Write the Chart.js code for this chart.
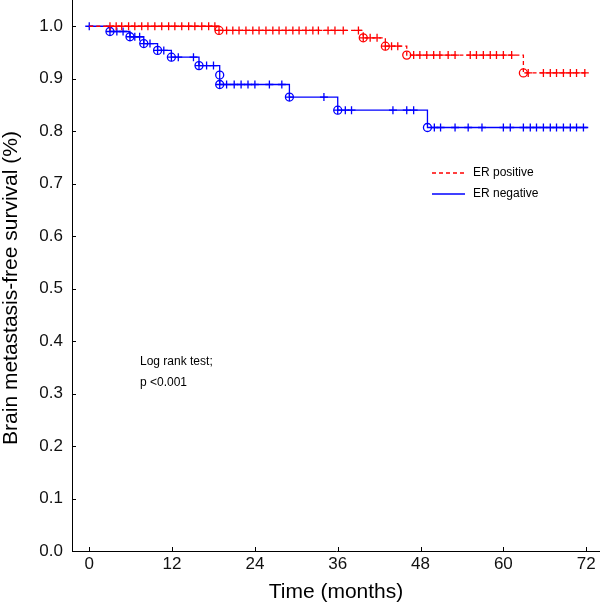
<!DOCTYPE html>
<html>
<head>
<meta charset="utf-8">
<script src="https://cdn.jsdelivr.net/npm/chart.js@4.4.0/dist/chart.umd.min.js"></script>
<style>
  html, body { margin: 0; padding: 0; background: #fff; }
  #wrap { width: 600px; height: 605px; position: relative; }
</style>
</head>
<body>
<div id="wrap"><canvas id="km"></canvas></div>
<script>
const xTicks = [0, 12, 24, 36, 48, 60, 72];
const yTicks = [0, 0.1, 0.2, 0.3, 0.4, 0.5, 0.6, 0.7, 0.8, 0.9, 1.0];

// ER positive: step times (first = start, last = end of follow-up) and survival after each step
const posTimes = [0, 18.8, 39.7, 42.9, 46.0, 62.9, 72.1];
const posSurv  = [1, 0.992, 0.978, 0.962, 0.945, 0.911, 0.911];
const posCensor = [3.0, 3.9, 4.7, 5.7, 6.6, 7.6, 8.5, 9.5, 10.5, 11.5, 12.4, 13.4, 14.4, 15.3, 16.3, 17.3, 18.2,
  18.8, 19.9, 20.8, 21.7, 22.7, 23.7, 24.6, 25.6, 26.6, 27.5, 28.5, 29.5, 30.4, 31.4, 32.4, 33.2,
  34.6, 35.6, 36.8, 39.0, 39.7, 40.7, 41.7, 42.9, 43.8, 44.7,
  47.0, 47.9, 48.9, 49.9, 50.8, 52.0, 53.0, 55.2, 56.1, 57.1, 58.1, 59.0, 60.0, 61.2,
  63.6, 65.8, 66.8, 67.7, 68.7, 69.7, 70.6, 71.8];

// ER negative
const negTimes = [0, 3.0, 5.9, 7.9, 9.9, 11.9, 15.9, 18.9, 18.9, 29.0, 36.0, 49.0, 72.3];
const negSurv  = [1, 0.990, 0.980, 0.967, 0.954, 0.941, 0.925, 0.907, 0.889, 0.865, 0.840, 0.807, 0.807];
const negCensor = [0, 3.0, 4.0, 4.9, 5.9, 6.6, 7.3, 7.9, 8.8, 9.9, 10.8, 11.9, 12.9, 15.1, 15.9, 17.0, 18.0,
  18.9, 19.9, 21.0, 22.0, 23.0, 24.0, 26.1, 27.9, 29.0, 34.0, 36.0, 37.1, 38.0, 44.0, 46.0, 47.0,
  50.0, 50.9, 53.0, 54.9, 56.9, 60.0, 61.0, 62.9, 63.9, 64.8, 65.8, 66.8, 67.7, 68.7, 69.7, 70.6, 71.6];

const seriesNames = ['ER positive', 'ER negative'];
const noteLines = ['Log rank test;', 'p <0.001'];

const RED = 'rgb(255,0,0)';
const BLUE = 'rgb(0,0,255)';
const FONT = '"Liberation Sans", Arial, sans-serif';

function curve(times, surv) {
  return times.map((t, i) => ({ x: t, y: surv[i] }));
}
function events(times, surv) {
  return curve(times, surv).slice(1, -1);
}
// survival on the step curve at time t
function survAt(times, surv, t) {
  let s = surv[0];
  for (let i = 0; i < times.length; i++) if (times[i] <= t) s = surv[i];
  return s;
}
function censored(times, surv, cens) {
  return cens.map(t => ({ x: t, y: survAt(times, surv, t) }));
}

const kmExtras = {
  id: 'kmExtras',
  afterDraw(chart) {
    const { ctx, chartArea, scales } = chart;
    const x = scales.x, y = scales.y;
    ctx.save();
    // inward tick marks
    ctx.strokeStyle = '#000';
    ctx.lineWidth = 1;
    ctx.beginPath();
    xTicks.forEach(v => {
      const px = Math.round(x.getPixelForValue(v)) + 0.5;
      ctx.moveTo(px, chartArea.bottom);
      ctx.lineTo(px, chartArea.bottom - 4);
    });
    yTicks.forEach(v => {
      const py = Math.round(y.getPixelForValue(v)) + 0.5;
      ctx.moveTo(chartArea.left, py);
      ctx.lineTo(chartArea.left + 4, py);
    });
    ctx.stroke();

    // legend
    ctx.font = '12px ' + FONT;
    ctx.textBaseline = 'middle';
    const ly = [173, 194];
    const lc = [RED, BLUE];
    seriesNames.forEach((name, i) => {
      ctx.beginPath();
      ctx.strokeStyle = lc[i];
      ctx.lineWidth = 1.5;
      ctx.setLineDash(i === 0 ? [4, 3] : []);
      ctx.moveTo(432, ly[i]);
      ctx.lineTo(465, ly[i]);
      ctx.stroke();
      ctx.fillStyle = '#000';
      ctx.fillText(name, 473, ly[i]);
    });
    ctx.setLineDash([]);

    // log rank note
    ctx.fillStyle = '#000';
    noteLines.forEach((t, i) => ctx.fillText(t, 140, 362 + i * 21));

    // y axis title
    ctx.font = '21px ' + FONT;
    ctx.textAlign = 'center';
    ctx.translate(11, 288);
    ctx.rotate(-Math.PI / 2);
    ctx.fillText('Brain metastasis-free survival (%)', 0, 0);
    ctx.restore();
  }
};

new Chart(document.getElementById('km'), {
  type: 'scatter',
  data: {
    datasets: [{
      label: seriesNames[0],
      data: curve(posTimes, posSurv),
      showLine: true,
      stepped: true,
      borderColor: RED,
      borderWidth: 1.3,
      borderDash: [4, 3],
      pointRadius: 0
    }, {
      label: seriesNames[0] + ' censored',
      data: censored(posTimes, posSurv, posCensor),
      pointStyle: 'cross',
      pointRadius: 4,
      borderColor: RED,
      borderWidth: 1.3
    }, {
      label: seriesNames[0] + ' events',
      data: events(posTimes, posSurv),
      pointStyle: 'circle',
      pointRadius: 4,
      borderColor: RED,
      backgroundColor: 'rgba(0,0,0,0)',
      borderWidth: 1.3
    }, {
      label: seriesNames[1],
      data: curve(negTimes, negSurv),
      showLine: true,
      stepped: true,
      borderColor: BLUE,
      borderWidth: 1.3,
      pointRadius: 0
    }, {
      label: seriesNames[1] + ' censored',
      data: censored(negTimes, negSurv, negCensor),
      pointStyle: 'cross',
      pointRadius: 4,
      borderColor: BLUE,
      borderWidth: 1.3
    }, {
      label: seriesNames[1] + ' events',
      data: events(negTimes, negSurv),
      pointStyle: 'circle',
      pointRadius: 4,
      borderColor: BLUE,
      backgroundColor: 'rgba(0,0,0,0)',
      borderWidth: 1.3
    }]
  },
  options: {
    responsive: true,
    maintainAspectRatio: false,
    animation: false,
    layout: { padding: 0, autoPadding: false },
    plugins: { legend: { display: false }, tooltip: { enabled: false } },
    scales: {
      x: {
        type: 'linear',
        min: -2.5,
        max: 74,
        afterFit: s => { s.height = 54; s.paddingLeft = 0; s.paddingRight = 0; },
        afterBuildTicks: s => { s.ticks = xTicks.map(v => ({ value: v })); },
        grid: { display: true, drawOnChartArea: false, drawTicks: false },
        border: { display: true, color: '#000', width: 1 },
        ticks: { padding: 3, color: '#111', maxRotation: 0, font: { family: FONT, size: 17 } },
        title: { display: true, text: 'Time (months)', color: '#000', padding: 0, font: { family: FONT, size: 21 } }
      },
      y: {
        type: 'linear',
        min: 0,
        max: 1.05,
        afterFit: s => { s.width = 72; s.paddingTop = 0; s.paddingBottom = 0; },
        afterBuildTicks: s => { s.ticks = yTicks.map(v => ({ value: v })); },
        grid: { display: true, drawOnChartArea: false, drawTicks: false },
        border: { display: true, color: '#000', width: 1 },
        ticks: { padding: 9, color: '#111', font: { family: FONT, size: 17 }, callback: v => v.toFixed(1) }
      }
    }
  },
  plugins: [kmExtras]
});
</script>
</body>
</html>
